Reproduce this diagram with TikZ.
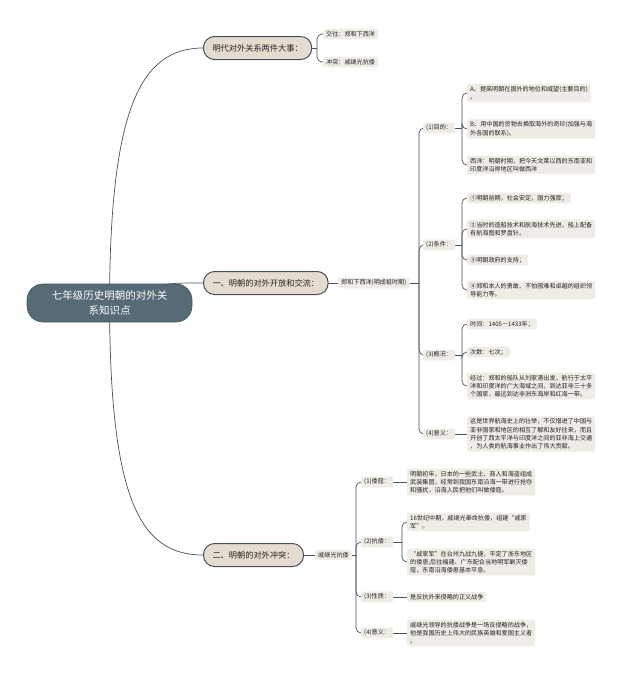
\documentclass[tikz,border=0pt]{standalone}
\usepackage{fontspec}
\setmainfont{Noto Sans CJK SC}
\usetikzlibrary{backgrounds}
\definecolor{rootc}{HTML}{566B76}
\definecolor{topc}{HTML}{E5DCCF}
\definecolor{leafc}{HTML}{EFECE6}
\definecolor{linec}{HTML}{46525A}
\definecolor{txtc}{HTML}{222222}
\tikzset{
 rootbox/.style={fill=rootc, draw=linec, line width=0.6pt, rounded corners=16pt, text=white, font=\fontsize{10.5}{15.5}\selectfont, align=center, minimum width=165pt, minimum height=38pt, inner sep=0pt},
 topicbox/.style={fill=topc, draw=linec, line width=1pt, rounded corners=11pt, font=\fontsize{8.2}{10}\selectfont, inner xsep=9pt, inner ysep=0pt, minimum height=23pt, anchor=west, text=txtc},
 leafbox/.style={fill=leafc, rounded corners=2pt, font=\fontsize{6.1}{8.2}\selectfont, align=left, inner xsep=3pt, inner ysep=2.3pt, anchor=west, text=txtc},
 conn/.style={draw=linec, line width=0.7pt},
 brk/.style={draw=linec, line width=0.7pt, rounded corners=5pt},
}
\begin{document}
\begin{tikzpicture}[x=1pt,y=-1pt]
\useasboundingbox (0,0) rectangle (625,675);
% root and topics
\node[rootbox] (root) at (109.5,303) {七年级历史明朝的对外关\\系知识点};
\node[topicbox] (t1) at (203,48) {明代对外关系两件大事：};
\node[topicbox] (t2) at (203,283) {一、明朝的对外开放和交流：};
\node[topicbox] (t3) at (203,555) {二、明朝的对外冲突：};
% topic 1 children
\node[leafbox] (a1) at (323,34) {交往：郑和下西洋};
\node[leafbox] (a2) at (323,62) {冲突：戚继光抗倭};
% topic 2
\node[leafbox] (b) at (338,283) {郑和下西洋(明成祖时期)};
\node[leafbox] (c1) at (423,128) {(1)目的：};
\node[leafbox] (c2) at (423,245) {(2)条件：};
\node[leafbox] (c3) at (423,355) {(3)概况：};
\node[leafbox] (c4) at (423,434) {(4)意义：};
\node[leafbox] (d11) at (467,93) {A、提高明朝在国外的地位和威望(主要目的)\\。};
\node[leafbox] (d12) at (467,129) {B、用中国的货物去换取海外的奇珍(加强与海\\外各国的联系)。};
\node[leafbox] (d13) at (467,165) {西洋：明朝时期，把今天文莱以西的东南亚和\\印度洋沿岸地区叫做西洋};
\node[leafbox] (d21) at (467,198) {①明朝前期，社会安定，国力强厚；};
\node[leafbox] (d22) at (467,229) {②当时的造船技术和航海技术先进，船上配备\\有航海图和罗盘针。};
\node[leafbox] (d23) at (467,260) {③明朝政府的支持；};
\node[leafbox] (d24) at (467,290) {④郑和本人的勇敢、不怕困难和卓越的组织领\\导能力等。};
\node[leafbox] (d31) at (467,324) {时间：1405－1433年；};
\node[leafbox] (d32) at (467,352) {次数：七次；};
\node[leafbox] (d33) at (467,386) {经过：郑和的船队从刘家港出发，航行于太平\\洋和印度洋的广大海域之间，到达亚非三十多\\个国家，最远到达非洲东海岸和红海一带。};
\node[leafbox] (d41) at (467,434) {这是世界航海史上的壮举，不仅增进了中国与\\亚非国家和地区的相互了解和友好往来，而且\\开创了西太平洋与印度洋之间的亚非海上交通\\，为人类的航海事业作出了伟大贡献。};
% topic 3
\node[leafbox] (e) at (315,555) {戚继光抗倭};
\node[leafbox] (f1) at (361,482) {(1)倭寇：};
\node[leafbox] (f2) at (361,542) {(2)抗倭：};
\node[leafbox] (f3) at (361,597) {(3)性质：};
\node[leafbox] (f4) at (361,633) {(4)意义：};
\node[leafbox] (g1) at (407,482) {明朝初年，日本的一些武士、商人和海盗组成\\武装集团，经常到我国东南沿海一带进行抢夺\\和骚扰，沿海人民把他们叫做倭寇。};
\node[leafbox] (g21) at (407,522) {16世纪中期，戚继光奉命抗倭，组建“戚家\\军”。};
\node[leafbox] (g22) at (407,562) {“戚家军”在台州九战九捷，平定了浙东地区\\的倭患;后往福建、广东配合当地明军剿灭倭\\寇，东南沿海倭患基本平息。};
\node[leafbox] (g3) at (407,597) {是反抗外来侵略的正义战争};
\node[leafbox] (g4) at (407,633) {戚继光领导的抗倭战争是一场反侵略的战争，\\他是我国历史上伟大的民族英雄和爱国主义者\\。};
\begin{scope}[on background layer]
\fill[white] (0,0) rectangle (625,675);
\draw[conn] (root.center) .. controls (110,110) and (140,48) .. (t1.west);
\draw[conn] (root.center) .. controls (110,500) and (140,555) .. (t3.west);
\draw[conn] (root.center) .. controls (160,283) .. (t2.west);
% topic 1
\draw[conn] (t1.east) -- (317,48);
\draw[brk] (317,48) |- (a1.west);
\draw[brk] (317,48) |- (a2.west);
% topic 2
\draw[conn] (t2.east) -- (b.west);
\draw[conn] (b.east) -- (419,283);
\foreach \c in {c1,c2,c3,c4} \draw[brk] (419,283) |- (\c.west);
\draw[conn] (c1.east) -- (462,128);
\foreach \c in {d11,d12,d13} \draw[brk] (462,128) |- (\c.west);
\draw[conn] (c2.east) -- (462,245);
\foreach \c in {d21,d22,d23,d24} \draw[brk] (462,245) |- (\c.west);
\draw[conn] (c3.east) -- (462,355);
\foreach \c in {d31,d32,d33} \draw[brk] (462,355) |- (\c.west);
\draw[conn] (c4.east) -- (d41.west);
% topic 3
\draw[conn] (t3.east) -- (e.west);
\draw[conn] (e.east) -- (356,555);
\foreach \c in {f1,f2,f3,f4} \draw[brk] (356,555) |- (\c.west);
\draw[conn] (f1.east) -- (g1.west);
\draw[conn] (f2.east) -- (402,542);
\foreach \c in {g21,g22} \draw[brk] (402,542) |- (\c.west);
\draw[conn] (f3.east) -- (g3.west);
\draw[conn] (f4.east) -- (g4.west);
\end{scope}
\end{tikzpicture}
\end{document}
